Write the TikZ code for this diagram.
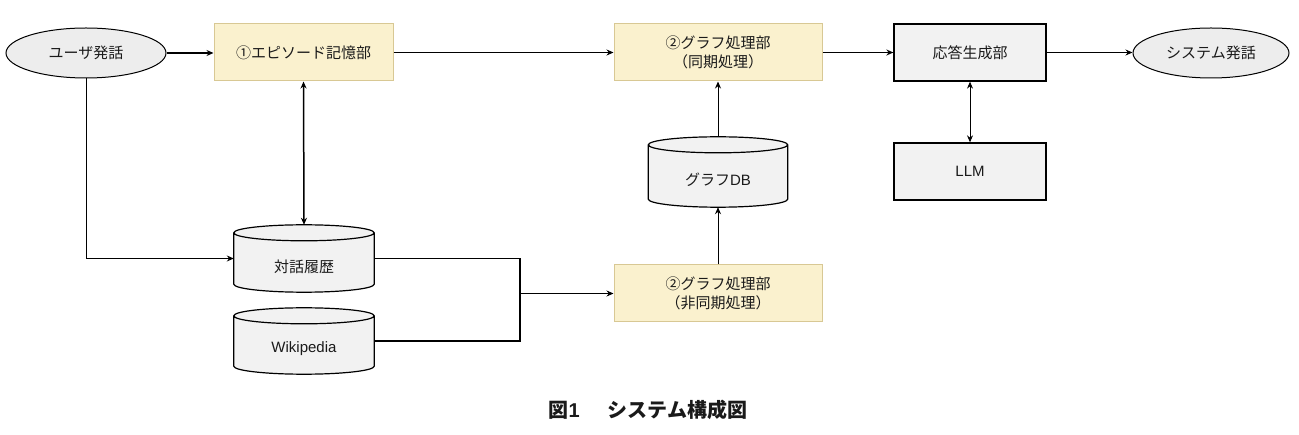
\documentclass[tikz,border=0pt]{standalone}
\usepackage{fontspec}
\setmainfont{Noto Sans CJK JP}
\newfontfamily\lat{Liberation Sans}
\usetikzlibrary{arrows.meta,shapes.geometric,calc,backgrounds}
\definecolor{yfill}{HTML}{FAF1CE}
\definecolor{yline}{HTML}{D8C894}
\definecolor{gfill}{HTML}{F2F2F2}
\definecolor{ofill}{HTML}{EDEDED}
\definecolor{txt}{HTML}{1A1A1A}
\newcommand\cyltxt[1]{\raisebox{-8pt}[\height][\depth]{#1}}
\newcommand\cylbg[1]{%
  \begin{scope}[on background layer]
  \draw[cylline] let \p1=(#1.north west), \p2=(#1.south east), \n1={(\x2-\x1)/2} in
    (\x1,\y1-8pt) -- (\x1,\y2+8pt) arc[start angle=180,end angle=360,x radius=\n1,y radius=8pt]
    -- (\x2,\y1-8pt) arc[start angle=0,end angle=180,x radius=\n1,y radius=8pt] -- cycle
    (\x1,\y1-8pt) arc[start angle=180,end angle=360,x radius=\n1,y radius=8pt];
  \end{scope}}
\begin{document}
\begin{tikzpicture}[x=1pt,y=1pt,
  every node/.style={font=\fontsize{15}{19}\selectfont, text=txt},
  ybox/.style={draw=yline, fill=yfill, line width=1pt, align=center, inner sep=0, minimum height=57},
  gbox/.style={draw=black, fill=gfill, line width=1.3pt, align=center, inner sep=0, minimum height=57, minimum width=152},
  oval/.style={ellipse, draw=black, fill=ofill, line width=1pt, inner sep=0, minimum height=50},
  cylnode/.style={inner sep=0, minimum width=140, minimum height=67},
  cylline/.style={draw=black, fill=gfill, line width=1.2pt},
  arr/.style={-{Stealth[length=7pt,width=6pt]}},
  darr/.style={{Stealth[length=7pt,width=6pt]}-{Stealth[length=7pt,width=6pt]}},
  thk/.style={line width=1.5pt},
  thn/.style={line width=1pt}
]
\useasboundingbox (0,0) rectangle (1299,-435);

\node[oval, minimum width=160] (user) at (86,-53) {ユーザ発話};
\node[ybox, minimum width=179] (epi) at (303.5,-52.5) {①エピソード記憶部};
\node[ybox, minimum width=208] (gsync) at (718,-52.5) {②グラフ処理部\\（同期処理）};
\node[gbox] (resp) at (970,-52.5) {応答生成部};
\node[oval, minimum width=156] (sys) at (1211,-53) {システム発話};
\node[gbox] (llm) at (970,-171.5) {\lat LLM};
\node[cylnode, minimum width=139, minimum height=70] (gdb) at (718,-172) {\cyltxt{グラフ{\lat DB}}};
\cylbg{gdb}
\node[ybox, minimum width=208] (gasync) at (718,-293.5) {②グラフ処理部\\（非同期処理）};
\node[cylnode] (hist) at (304,-258.5) {\cyltxt{対話履歴}};
\cylbg{hist}
\node[cylnode, minimum height=66] (wiki) at (304,-341) {\cyltxt{\lat Wikipedia}};
\cylbg{wiki}

\node[font=\bfseries\fontsize{20}{24}\selectfont] (cap) at (648,-410) {図{\lat 1}\hspace{28pt}システム構成図};

\coordinate (jx) at (520,-293.5);

\draw[thk, arr] (user.east) -- (user.east -| epi.west);
\draw[thk, arr] (epi.east) -- (epi.east -| gsync.west);
\draw[thk, arr] (gsync.east) -- (gsync.east -| resp.west);
\draw[thk, arr] (resp.east) -- (resp.east -| sys.west);
\draw[thk, darr] (epi.south) -- (hist.north);
\draw[thn, darr] (resp.south) -- (llm.north);
\draw[thn, arr] (gdb.north) -- (gsync.south);
\draw[thn, arr] (gasync.north) -- (gdb.south);
\draw[thn, arr] (user.south) |- (hist.west);
\draw[thk] (hist.east) -| (jx) |- (wiki.east);
\draw[thn, arr] (jx) -- (jx -| gasync.west);
\end{tikzpicture}
\end{document}
